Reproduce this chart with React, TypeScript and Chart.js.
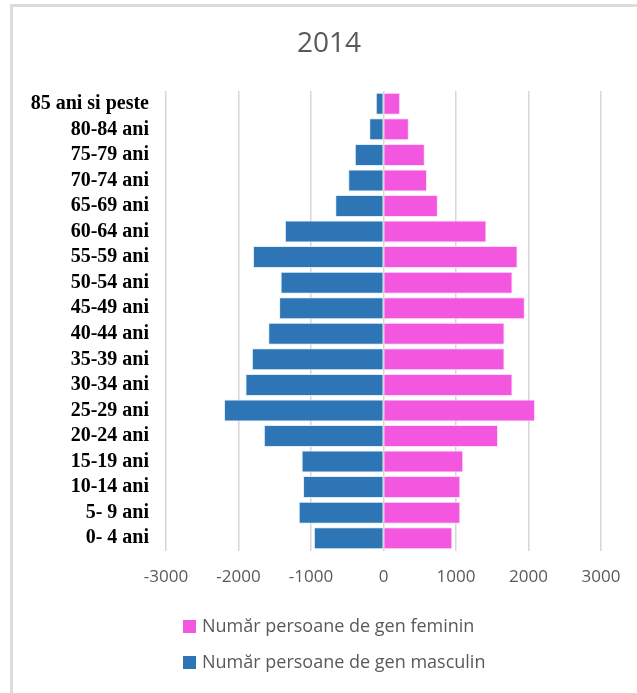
import React, { useEffect, useRef } from "react";
import { Chart, registerables } from "chart.js";

Chart.register(...registerables);

const TITLE = "2014";
const AGE_GROUPS = [
  "85 ani si peste",
  "80-84 ani",
  "75-79 ani",
  "70-74 ani",
  "65-69 ani",
  "60-64 ani",
  "55-59 ani",
  "50-54 ani",
  "45-49 ani",
  "40-44 ani",
  "35-39 ani",
  "30-34 ani",
  "25-29 ani",
  "20-24 ani",
  "15-19 ani",
  "10-14 ani",
  "5- 9 ani",
  "0- 4 ani",
];
const FEMALE = [230, 350, 570, 600, 750, 1420, 1850, 1780, 1950, 1670, 1670, 1780, 2090, 1580, 1100, 1060, 1060, 950];
const MALE = [-106, -197, -396, -487, -666, -1360, -1800, -1420, -1440, -1590, -1815, -1905, -2200, -1650, -1130, -1110, -1170, -960];
const X_MIN = -3000;
const X_MAX = 3000;
const X_STEP = 1000;
const LABEL_FEMALE = "Număr persoane de gen feminin";
const LABEL_MALE = "Număr persoane de gen masculin";
const COLOR_FEMALE = "#f457df";
const COLOR_MALE = "#2e75b6";

const TEXT_GRAY = "#595959";
const SANS = "'Open Sans', 'Liberation Sans', sans-serif";

const titleLegendPlugin = {
  id: "titleAndLegend",
  afterDraw(chart: any) {
    const ctx = chart.ctx;
    ctx.save();
    ctx.font = `28px ${SANS}`;
    ctx.fillStyle = TEXT_GRAY;
    ctx.textAlign = "center";
    ctx.textBaseline = "middle";
    ctx.fillText(TITLE, 329, 44);

    const items = [
      { label: LABEL_FEMALE, color: COLOR_FEMALE, y: 626 },
      { label: LABEL_MALE, color: COLOR_MALE, y: 662 },
    ];
    ctx.font = `18px ${SANS}`;
    ctx.textAlign = "left";
    for (const it of items) {
      ctx.fillStyle = it.color;
      ctx.fillRect(183, it.y - 6, 13, 13);
      ctx.fillStyle = TEXT_GRAY;
      ctx.fillText(it.label, 202, it.y + 1);
    }
    ctx.restore();
  },
};

export default function App() {
  const canvasRef = useRef<HTMLCanvasElement | null>(null);

  useEffect(() => {
    if (!canvasRef.current) return;
    const chart = new Chart(canvasRef.current, {
      type: "bar",
      data: {
        labels: AGE_GROUPS,
        datasets: [
          {
            label: LABEL_FEMALE,
            data: FEMALE,
            backgroundColor: COLOR_FEMALE,
            borderColor: "rgba(255,220,250,0.9)",
            borderWidth: 1,
            barPercentage: 0.86,
            categoryPercentage: 1,
          },
          {
            label: LABEL_MALE,
            data: MALE,
            backgroundColor: COLOR_MALE,
            borderColor: "rgba(220,235,250,0.9)",
            borderWidth: 1,
            barPercentage: 0.86,
            categoryPercentage: 1,
          },
        ],
      },
      options: {
        indexAxis: "y",
        animation: false,
        responsive: true,
        maintainAspectRatio: false,
        layout: { padding: { left: 10, right: 36, top: 91, bottom: 102 } },
        plugins: {
          legend: { display: false },
          tooltip: { enabled: false },
          title: { display: false },
        },
        scales: {
          x: {
            stacked: true,
            min: X_MIN,
            max: X_MAX,
            afterFit: (scale: any) => {
              scale.height = 40;
            },
            ticks: {
              stepSize: X_STEP,
              color: TEXT_GRAY,
              font: { family: SANS, size: 17 },
              padding: 16,
              callback: (v: any) => String(v),
            },
            grid: { color: "#d6d6d6", lineWidth: 1.5, drawTicks: false },
            border: { display: false },
          },
          y: {
            stacked: true,
            afterFit: (scale: any) => {
              scale.width = 156;
            },
            ticks: {
              color: "#000",
              font: { family: "'Liberation Serif', 'Times New Roman', serif", size: 20, weight: "bold" },
              padding: 17,
              autoSkip: false,
            },
            grid: { display: false, drawTicks: false },
            border: { display: false },
          },
        },
      },
      plugins: [titleLegendPlugin],
    });
    return () => chart.destroy();
  }, []);

  return (
    <div style={{ position: "absolute", left: 0, top: 0, width: 637, height: 693, background: "#fff" }}>
      <canvas ref={canvasRef} />
      <div
        style={{
          position: "absolute",
          left: 10,
          top: 4,
          width: 640,
          height: 688,
          borderTop: "3px solid #dcdcdc",
          borderLeft: "3px solid #dcdcdc",
          borderBottom: "1px solid #eeeeee",
          pointerEvents: "none",
        }}
      />
    </div>
  );
}
